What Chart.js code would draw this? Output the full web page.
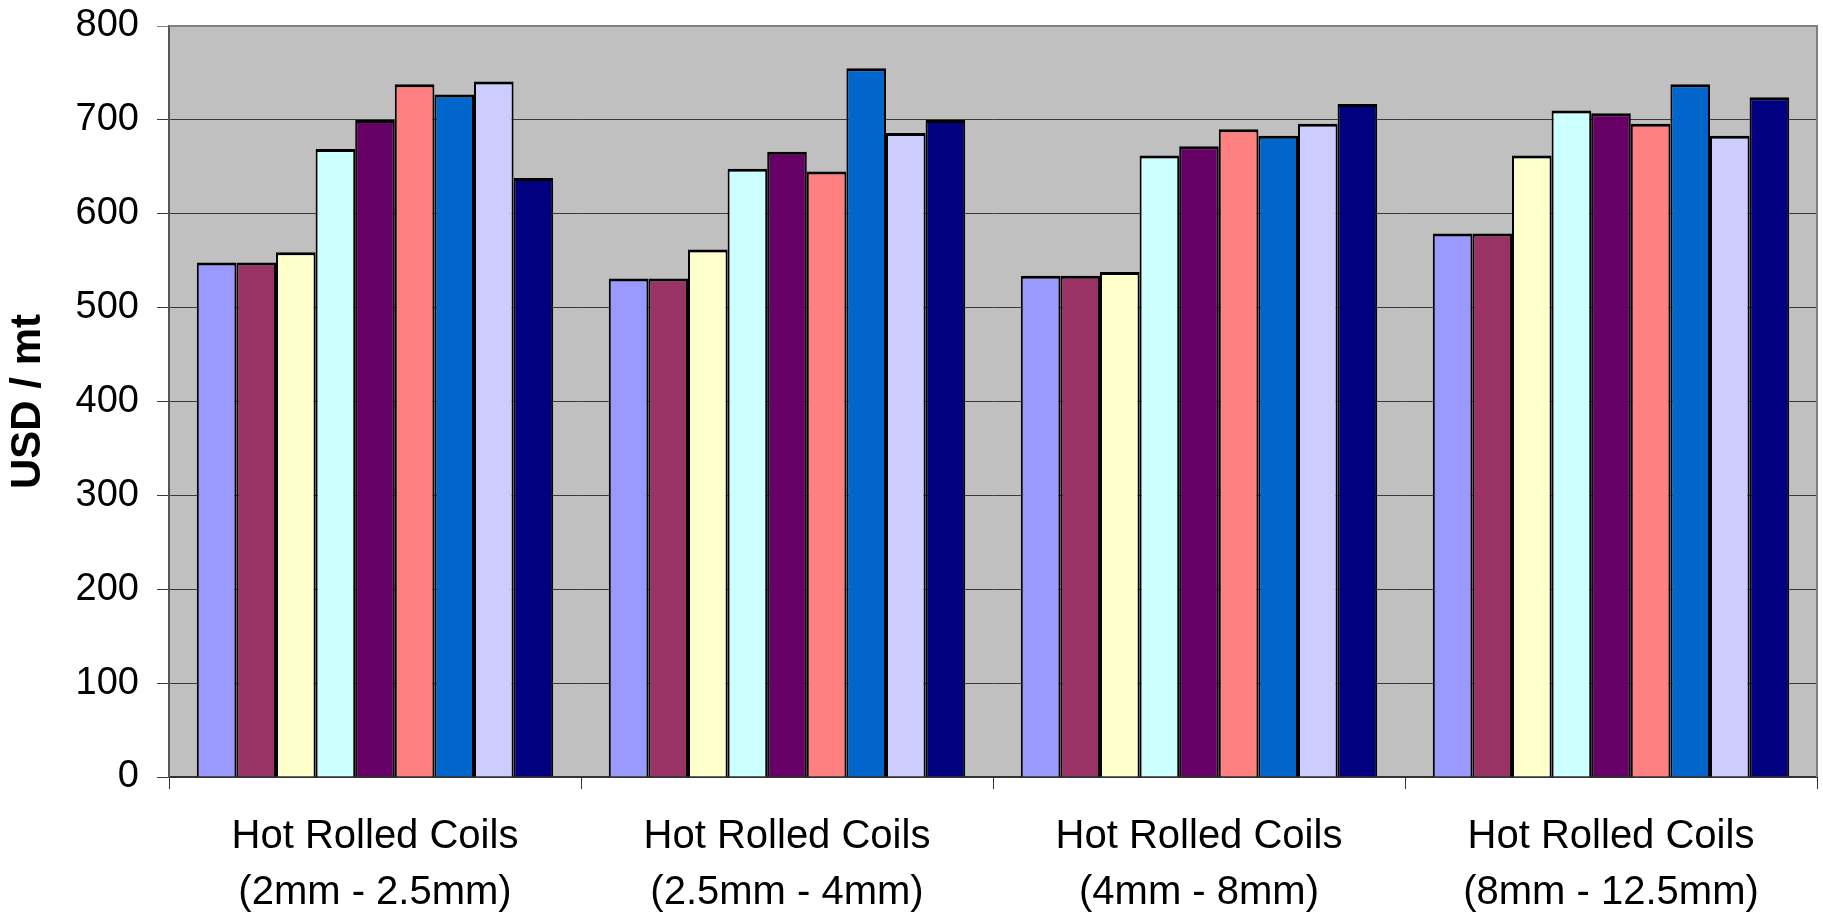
<!DOCTYPE html>
<html>
<head>
<meta charset="utf-8">
<script src="https://cdn.jsdelivr.net/npm/chart.js@4.4.0/dist/chart.umd.min.js"></script>
<style>
  body { margin: 0; background: #fff; }
  #wrap { width: 1823px; height: 919px; }
</style>
</head>
<body>
<div id="wrap"><canvas id="steel" width="1823" height="919"></canvas></div>
<script>
var categories = [
	['Hot Rolled Coils', '(2mm - 2.5mm)'],
	['Hot Rolled Coils', '(2.5mm - 4mm)'],
	['Hot Rolled Coils', '(4mm - 8mm)'],
	['Hot Rolled Coils', '(8mm - 12.5mm)']
];
var seriesNames = ['Series 1', 'Series 2', 'Series 3', 'Series 4', 'Series 5', 'Series 6', 'Series 7', 'Series 8', 'Series 9'];
var s1 = [548, 531, 534, 579];
var s2 = [548, 531, 534, 579];
var s3 = [559, 562, 538, 662];
var s4 = [669, 648, 662, 710];
var s5 = [700, 666, 672, 707];
var s6 = [738, 645, 690, 696];
var s7 = [727, 755, 683, 738];
var s8 = [741, 686, 696, 683];
var s9 = [638, 700, 717, 724];
var yTicks = [0, 100, 200, 300, 400, 500, 600, 700, 800];

var colors = ['#9999FF', '#993366', '#FFFFCC', '#CCFFFF', '#660066', '#FF8080', '#0066CC', '#CCCCFF', '#000080'];
var allSeries = [s1, s2, s3, s4, s5, s6, s7, s8, s9];

var datasets = [];
for (var i in allSeries) {
	datasets.push({
		label: seriesNames[i],
		data: allSeries[i],
		backgroundColor: colors[i],
		borderColor: '#000000',
		borderWidth: { top: 3, left: 2, right: 2, bottom: 0 },
		barPercentage: 1.0,
		categoryPercentage: 0.865
	});
}

// grey plot area + grey top/right frame like the old Excel chart
var plotFrame = {
	id: 'plotFrame',
	beforeDraw: function(chart) {
		var a = chart.chartArea, ctx = chart.ctx;
		ctx.save();
		ctx.fillStyle = '#C0C0C0';
		ctx.fillRect(a.left, a.top, a.right - a.left, a.bottom - a.top);
		ctx.restore();
	},
	afterDraw: function(chart) {
		var a = chart.chartArea, ctx = chart.ctx;
		ctx.save();
		ctx.strokeStyle = '#808080';
		ctx.lineWidth = 2;
		ctx.beginPath();
		ctx.moveTo(a.left, a.top);
		ctx.lineTo(a.right, a.top);
		ctx.lineTo(a.right, a.bottom);
		ctx.stroke();
		ctx.restore();
	}
};

var font = '"Liberation Sans", Arial, sans-serif';

new Chart(document.getElementById('steel'), {
	type: 'bar',
	data: { labels: categories, datasets: datasets },
	plugins: [plotFrame],
	options: {
		responsive: false,
		animation: false,
		layout: { padding: { top: 26, right: 6, left: 0, bottom: 0 } },
		plugins: {
			legend: { display: false },
			tooltip: { enabled: false }
		},
		scales: {
			x: {
				afterFit: function(scale) {
					scale.height = 142;
					scale.paddingLeft = 0;
					scale.paddingRight = 0;
				},
				grid: {
					offset: true,
					drawOnChartArea: false,
					drawTicks: true,
					tickLength: 12,
					color: '#333333'
				},
				border: { color: '#333333', width: 2 },
				ticks: {
					color: '#000',
					padding: 20,
					maxRotation: 0,
					font: { family: font, size: 40, lineHeight: 1.4 }
				}
			},
			y: {
				min: 0,
				max: 800,
				afterBuildTicks: function(scale) {
					scale.ticks = yTicks.map(function(v) { return { value: v }; });
				},
				afterFit: function(scale) {
					scale.width = 169;
					scale.paddingTop = 0;
					scale.paddingBottom = 0;
				},
				grid: {
					color: function(c) { return c.tick && c.tick.value === 800 ? '#808080' : '#3a3a3a'; },
					lineWidth: 1,
					tickLength: 12
				},
				border: { color: '#555555', width: 2 },
				ticks: {
					color: '#000',
					padding: 18,
					font: { family: font, size: 38 }
				},
				title: {
					display: true,
					text: 'USD / mt',
					color: '#000',
					padding: { top: 3, bottom: 0 },
					font: { family: font, size: 42, weight: 'bold', lineHeight: 1.2 }
				}
			}
		}
	}
});
</script>
</body>
</html>
